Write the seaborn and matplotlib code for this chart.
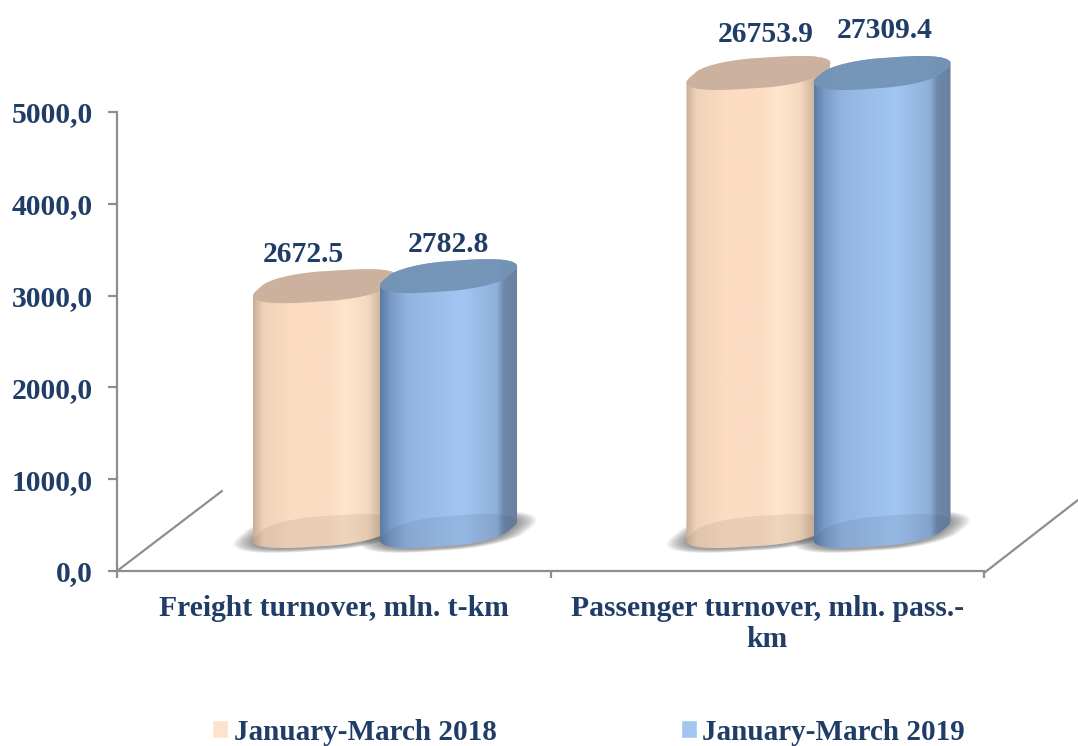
import numpy as np
import pandas as pd
import matplotlib
matplotlib.use("Agg")
import matplotlib.pyplot as plt
from matplotlib.colors import LinearSegmentedColormap
from matplotlib.patches import Polygon
import seaborn as sns

categories = ["Freight turnover, mln. t-km", "Passenger turnover, mln. pass.-\nkm"]
periods = ["January-March 2018", "January-March 2019"]
values_2018 = [2672.5, 26753.9]
values_2019 = [2782.8, 27309.4]
y_ticks = [0, 1000, 2000, 3000, 4000, 5000]
y_labels = ["0,0", "1000,0", "2000,0", "3000,0", "4000,0", "5000,0"]

W, H = 1078, 746
NAVY = "#1f3d66"
GREY = "#8e8e8e"
FONT = "Liberation Serif"
FS = 21.3

sns.set_theme(style="white")
plt.rcParams["font.family"] = [FONT, "DejaVu Sans"]
plt.rcParams["font.weight"] = "bold"
plt.rcParams["font.size"] = FS


def ax_rect(x0, ytop, x1, ybot):
    return [x0 / W, 1 - ybot / H, (x1 - x0) / W, (ybot - ytop) / H]


def ring(cx, cy, a, b, ts, p, phi=np.radians(31)):
    # tilted ellipse, looks like the top of the excel 3d cylinder
    c = np.cos(ts)
    s = np.sin(ts + phi)
    return np.column_stack([cx + a * np.sign(c) * np.abs(c) ** p,
                            cy - b * np.sign(s) * np.abs(s) ** p])


df = pd.DataFrame({
    "category": categories * 2,
    "period": [periods[0]] * 2 + [periods[1]] * 2,
    "value": values_2018 + values_2019,
})
# the axis stops at 5000, the passenger bars are cut there
df["height"] = df["value"].clip(upper=y_ticks[-1])

fig = plt.figure(figsize=(W / 100, H / 100), dpi=100, facecolor="white")

# front frame with ticks and labels
frame = fig.add_axes(ax_rect(117, 112, 984, 571), zorder=0)
frame.set_xlim(-0.5, 1.5)
frame.set_ylim(0, 5000)
frame.patch.set_alpha(0)
sns.despine(ax=frame)
for side in ["left", "bottom"]:
    frame.spines[side].set_color(GREY)
    frame.spines[side].set_linewidth(1.6)
frame.set_yticks(y_ticks, y_labels, color=NAVY, fontsize=FS)
frame.set_xticks([-0.5, 0.5, 1.5], ["", "", ""])
frame.set_xticks([0, 1], categories, minor=True, color=NAVY, linespacing=1.2, fontsize=FS)
frame.tick_params(axis="y", length=6.5, width=1.6, color=GREY, pad=11, left=True)
frame.tick_params(axis="x", which="major", length=5, width=1.6, color=GREY, bottom=True)
frame.tick_params(axis="x", which="minor", length=0, pad=17)

# back plane, the bars stand on it
plane = fig.add_axes(ax_rect(170, 73, 1037, 531), zorder=1)
plane.patch.set_alpha(0)
sns.barplot(data=df, x="category", y="height", hue="period", hue_order=periods,
            palette=["#fde3cd", "#a3c6f0"], saturation=1, width=0.57, gap=0,
            order=categories, ax=plane)
plane.set_xlim(-0.5, 1.5)
plane.set_ylim(0, 5000)

# pixel canvas for the cylinder look
canvas = fig.add_axes([0, 0, 1, 1], zorder=2)
canvas.patch.set_alpha(0)
canvas.axis("off")

canvas.plot([117, 222], [571, 491], color=GREY, lw=1.6)
canvas.plot([984, 1078], [573, 500], color=GREY, lw=1.6)

peach_map = LinearSegmentedColormap.from_list("peach", [
    (0, "#c9ad96"), (0.08, "#f0d2b9"), (0.3, "#fbdcc3"), (0.6, "#fbdcc3"),
    (0.72, "#ffe6cd"), (0.9, "#f6dabf"), (1, "#d1b8a2")])
blue_map = LinearSegmentedColormap.from_list("blue", [
    (0, "#5c7ba3"), (0.08, "#7a9ac8"), (0.2, "#93b4e0"), (0.6, "#a2c6f2"),
    (0.85, "#8fafd9"), (0.9, "#6e88aa"), (1, "#6a819f")])

series_style = [
    dict(a=72, p=0.82, span=(-72, 55), cmap=peach_map, cap="#ccb29e", cap_alpha=1.0),
    dict(a=68.5, p=0.85, span=(-68.5, 68.5), cmap=blue_map, cap="#7494b6", cap_alpha=0.95),
]
gradient = np.linspace(0, 1, 256)[None, :]
ts_all = np.linspace(0, 2 * np.pi, 200)
ts_front = np.linspace(np.pi, 2 * np.pi, 100)
ts_back = np.linspace(0, np.pi, 100)
to_px = lambda pts: canvas.transData.inverted().transform(plane.transData.transform(pts))

canvas.set_xlim(0, W)
canvas.set_ylim(H, 0)

# soft shadows first
for container, style in zip(plane.containers, series_style):
    for bar in container:
        cx, cy = to_px([(bar.get_x() + bar.get_width() / 2, 0)])[0]
        for grow in range(1, 21):
            canvas.add_patch(Polygon(ring(cx, cy + 1, style["a"] + grow, 17 + grow * 0.2, ts_all, style["p"]),
                                     closed=True, fc="#505050", ec="none", alpha=0.035, zorder=1))

for k, (container, style) in enumerate(zip(plane.containers, series_style)):
    for bar in container:
        xm = bar.get_x() + bar.get_width() / 2
        (cx, base), (_, top) = to_px([(xm, 0), (xm, bar.get_height())])
        outline = np.vstack([ring(cx, base, style["a"], 17, ts_front, style["p"]),
                             ring(cx, top, style["a"], 17, ts_back, style["p"])])
        z = 2 + k * 2
        body = Polygon(outline, closed=True, fc="none", ec="none", zorder=z)
        canvas.add_patch(body)
        bar.set_clip_path(body)
        img = canvas.imshow(gradient, cmap=style["cmap"], aspect="auto", zorder=z,
                            extent=(cx + style["span"][0], cx + style["span"][1], 600, 0))
        img.set_clip_path(body)
        # right part of the peach bar sits behind the blue one
        if style["span"][1] < style["a"]:
            extra = canvas.imshow(np.ones((1, 2)), cmap=LinearSegmentedColormap.from_list("e", ["#d1b8a2", "#d1b8a2"]),
                                  vmin=0, vmax=1, aspect="auto", zorder=z - 0.5,
                                  extent=(cx + style["span"][1] - 1, cx + style["a"], 600, 0))
            extra.set_clip_path(body)
        floor = Polygon(ring(cx, base, style["a"], 17, ts_all, style["p"]), closed=True,
                        fc="#5a4a3a" if k == 0 else "#2a3f60", ec="none", alpha=0.1, zorder=z + 0.2)
        canvas.add_patch(floor)
        floor.set_clip_path(body)
        canvas.add_patch(Polygon(ring(cx, top, style["a"], 17, ts_all, style["p"]), closed=True,
                                 fc=style["cap"], ec="none", alpha=style["cap_alpha"], zorder=z + 0.4))
canvas.set_xlim(0, W)
canvas.set_ylim(H, 0)

# value labels, small nudges because the original ones were hand placed
nudges = [[(-22, 32), (7, 39)], [(0, 32), (3, 42)]]
for container, vals, nudge in zip(plane.containers, [values_2018, values_2019], nudges):
    for bar, val, (dx, dy) in zip(container, vals, nudge):
        plane.annotate(f"{val:.1f}", xy=(bar.get_x() + bar.get_width() / 2, bar.get_height()),
                       xytext=(dx * 0.72, dy * 0.72), textcoords="offset points",
                       ha="center", va="center", color=NAVY, annotation_clip=False, fontsize=FS)

sns.move_legend(plane, "center left", bbox_to_anchor=(212 / W, 1 - 732 / H),
                bbox_transform=fig.transFigure, ncol=2, frameon=False, title=None,
                fontsize=21, handlelength=0.55, handleheight=0.55, handletextpad=0.2,
                columnspacing=6.3, borderpad=0, borderaxespad=0, labelcolor=NAVY)
plane.axis("off")

fig.savefig("out.png", dpi=100)
